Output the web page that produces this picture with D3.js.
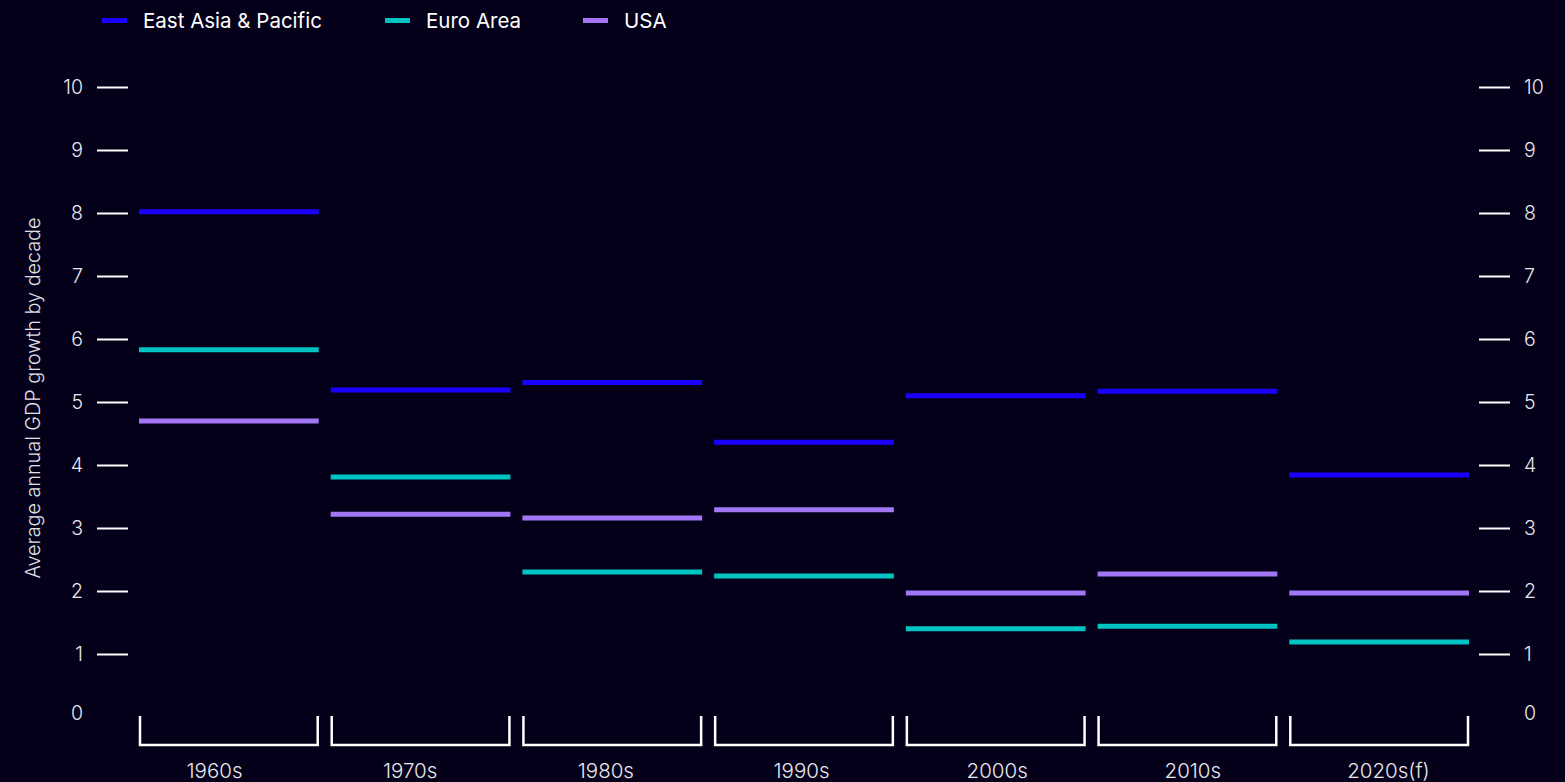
<!DOCTYPE html>
<html><head><meta charset="utf-8">
<script src="https://cdn.jsdelivr.net/npm/d3@7"></script>
<style>
html,body{margin:0;padding:0;background:#05001a;}
svg{display:block;}
text{font-family:Inter,"Noto Sans",sans-serif;}
</style></head>
<body><svg id="c" width="1565" height="782"></svg>
<script>
const decades = ["1960s","1970s","1980s","1990s","2000s","2010s","2020s(f)"];
const seriesNames = ["East Asia & Pacific","Euro Area","USA"];
const eastAsia = [8.02, 5.19, 5.31, 4.36, 5.10, 5.17, 3.84];
const euroArea = [5.83, 3.81, 2.30, 2.24, 1.40, 1.44, 1.19];
const usa      = [4.70, 3.22, 3.16, 3.29, 1.97, 2.27, 1.97];
const yTicks = [0,1,2,3,4,5,6,7,8,9,10];
const colors = ["#1a00ff","#00c4c4","#a276f5"];

const svg = d3.select("#c");
const W = 1565, H = 782;
const bg = "#05001a";
svg.append("rect").attr("width",W).attr("height",H).attr("fill",bg);

const y = d3.scaleLinear().domain([0,10]).range([717,87]);
const x = d3.scaleBand().domain(decades).range([139,1469]).paddingInner(0.0626).paddingOuter(0);
const xLabel = d3.scalePoint().domain(decades).range([214.5,1388.5]);

function styleAxis(g){
  g.select(".domain").remove();
  g.selectAll(".tick line").attr("stroke","#ffffff").attr("stroke-width",2).attr("opacity",d=>d===0?0:1);
  g.selectAll(".tick text").attr("fill","#e8e8ee").attr("font-size",19.5).attr("font-weight",300)
    .attr("font-family","Inter, 'Noto Sans', sans-serif").attr("dy",d=>d===0?"0.15em":"0.32em");
}
// left axis
const gl = svg.append("g").attr("transform","translate(128,0)")
  .call(d3.axisLeft(y).tickValues(yTicks).tickSize(31).tickPadding(14).tickFormat(d3.format("d")));
styleAxis(gl);
// right axis
const gr = svg.append("g").attr("transform","translate(1479,0)")
  .call(d3.axisRight(y).tickValues(yTicks).tickSize(31).tickPadding(14).tickFormat(d3.format("d")));
styleAxis(gr);

// y title
svg.append("text").attr("transform","translate(40,398) rotate(-90)")
  .attr("text-anchor","middle").attr("fill","#e0e0e8").attr("font-size",19.8).attr("font-weight",300)
  .text("Average annual GDP growth by decade");

// brackets
const bw = x.bandwidth();
const gb = svg.append("g");
decades.forEach(d=>{
  const x0 = x(d)+1, x1 = x(d)+bw-1;
  gb.append("path").attr("d",`M${x0},716V745H${x1}V716`).attr("fill","none")
    .attr("stroke","#ffffff").attr("stroke-width",2.5);
  gb.append("text").attr("x",xLabel(d)).attr("y",778).attr("text-anchor","middle")
    .attr("fill","#e8e8ee").attr("font-size",20.5).attr("font-weight",300).text(d);
});

// series lines
const allSeries = [eastAsia, euroArea, usa];
allSeries.forEach((vals,si)=>{
  svg.append("g").selectAll("line").data(vals).join("line")
    .attr("x1",(v,i)=>x(decades[i])).attr("x2",(v,i)=>x(decades[i])+bw)
    .attr("y1",v=>y(v)).attr("y2",v=>y(v))
    .attr("stroke",colors[si]).attr("stroke-width",5);
});

// legend
const legX = [102, 385, 583];
const lg = svg.append("g");
seriesNames.forEach((n,i)=>{
  lg.append("line").attr("x1",legX[i]).attr("x2",legX[i]+25).attr("y1",20.5).attr("y2",20.5)
    .attr("stroke",colors[i]).attr("stroke-width",5);
  lg.append("text").attr("x",legX[i]+41).attr("y",27.5).attr("fill","#ffffff")
    .attr("font-size",20.5).attr("font-weight",400).text(n);
});
</script></body></html>
